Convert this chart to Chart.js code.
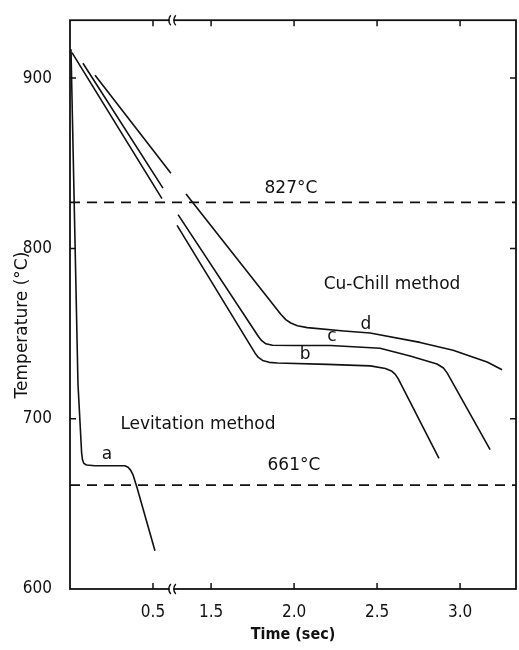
<!DOCTYPE html>
<html><head><meta charset="utf-8">
<script src="https://cdn.jsdelivr.net/npm/chart.js@4/dist/chart.umd.min.js"></script>
<style>html,body{margin:0;padding:0;background:#fff}#wrap{width:519px;height:650px;position:relative}</style>
</head><body><div id="wrap"><canvas id="c"></canvas></div>
<script>
// ---- data (time in seconds, temperature in °C) ----
const tickTimes  = [0.5, 1.5, 2.0, 2.5, 3.0];
const tickLabels = ['0.5', '1.5', '2.0', '2.5', '3.0'];
const tempTicks  = [600, 700, 800, 900];
const refTemps   = [827, 661];
const refLabels  = ['827°C', '661°C'];

const curveA_t = [0.006, 0.048, 0.070, 0.075, 0.083, 0.1, 0.15, 0.33, 0.35, 0.365, 0.38, 0.404, 0.512];
const curveA_T = [917, 720.5, 680, 676, 673.8, 672.8, 672.4, 672.4, 671.5, 669.8, 667, 659.4, 622.5];

const curveB_t0 = [0.012, 0.554];
const curveB_T0 = [915, 829.2];
const curveB_t  = [1.295, 1.765, 1.785, 1.81, 1.85, 1.9, 2.2, 2.46, 2.55, 2.59, 2.61, 2.627, 2.873];
const curveB_T  = [813.5, 738.5, 736, 734.2, 733.1, 732.7, 731.9, 731, 729.5, 727.8, 726, 723.5, 676.7];

const curveC_t0 = [0.078, 0.560];
const curveC_T0 = [908.7, 835.4];
const curveC_t  = [1.301, 1.785, 1.805, 1.83, 1.87, 2.0, 2.22, 2.518, 2.699, 2.861, 2.9, 2.922, 3.181];
const curveC_T  = [819.8, 748.3, 745.8, 744, 743.1, 743, 743, 741.4, 736.8, 732.1, 729.8, 726.9, 681.9];

const curveD_t0 = [0.151, 0.608];
const curveD_T0 = [901.7, 844.1];
const curveD_t  = [1.349, 1.92, 1.95, 1.98, 2.02, 2.08, 2.3, 2.458, 2.759, 2.958, 3.163, 3.253];
const curveD_T  = [832.0, 761.3, 758.2, 756.2, 754.6, 753.5, 751.5, 750.3, 744.8, 740.2, 733.3, 728.7];

// ---- broken time axis: the interval 0.65 s .. 1.3 s is cut out ----
const BREAK_CUT = 0.65;
const BREAK_AT = 0.613;           // axis position of the break mark
function toAxis(t) { return t < 1 ? t : t - BREAK_CUT; }
const X_MAX = 2.687, Y_MIN = 600, Y_MAX = 934;

function pts(ts, Ts) { return ts.map((t, i) => ({ x: toAxis(t), y: Ts[i] })); }
function broken(t0, T0, t1, T1) {
  return pts(t0, T0).concat([{ x: BREAK_AT, y: null }], pts(t1, T1));
}

const FONT = "'DejaVu Sans', sans-serif";
const TICKFONT = "'DejaVu Sans Condensed', 'DejaVu Sans', sans-serif";
const INK = '#111';

const lineStyle = {
  borderColor: INK, borderWidth: 1.6, pointRadius: 0, fill: false,
  tension: 0, spanGaps: false, borderJoinStyle: 'round'
};

const datasets = [
  Object.assign({ label: 'a', data: pts(curveA_t, curveA_T) }, lineStyle),
  Object.assign({ label: 'b', data: broken(curveB_t0, curveB_T0, curveB_t, curveB_T) }, lineStyle),
  Object.assign({ label: 'c', data: broken(curveC_t0, curveC_T0, curveC_t, curveC_T) }, lineStyle),
  Object.assign({ label: 'd', data: broken(curveD_t0, curveD_T0, curveD_t, curveD_T) }, lineStyle)
].concat(refTemps.map((T, i) => ({
  label: refLabels[i], data: [{ x: 0, y: T }, { x: X_MAX, y: T }],
  borderColor: INK, borderWidth: 1.7, borderDash: [10, 7], pointRadius: 0, fill: false, tension: 0
})));

// text annotations (time, temperature)
const notes = [
  { text: '827°C', t: 1.981, T: 835.4 },
  { text: '661°C', t: 1.999, T: 672.7 },
  { text: 'Cu-Chill method', t: 2.59, T: 778.9 },
  { text: 'Levitation method', t: 1.421, T: 696.4 },
  { text: 'a', t: 0.223, T: 679 },
  { text: 'b', t: 2.066, T: 737.5 },
  { text: 'c', t: 2.228, T: 748.3 },
  { text: 'd', t: 2.433, T: 755.2 }
];
const yTitle = 'Temperature (°C)';

const framePlugin = {
  id: 'frame',
  afterDatasetsDraw(chart) {
    const { ctx, chartArea: a, scales: { x, y } } = chart;
    ctx.save();
    ctx.strokeStyle = INK;
    ctx.lineWidth = 1.8;
    ctx.strokeRect(a.left, a.top, a.right - a.left, a.bottom - a.top);
    // inward ticks
    ctx.lineWidth = 1.5;
    const tl = 6;
    tickTimes.forEach(t => {
      const px = x.getPixelForValue(toAxis(t));
      ctx.beginPath();
      ctx.moveTo(px, a.bottom); ctx.lineTo(px, a.bottom - tl);
      ctx.moveTo(px, a.top); ctx.lineTo(px, a.top + tl);
      ctx.stroke();
    });
    tempTicks.forEach(T => {
      if (T === Y_MIN) return;
      const py = y.getPixelForValue(T);
      ctx.beginPath();
      ctx.moveTo(a.left, py); ctx.lineTo(a.left + tl, py);
      ctx.moveTo(a.right, py); ctx.lineTo(a.right - tl, py);
      ctx.stroke();
    });
    // axis break marks
    const bx = x.getPixelForValue(BREAK_AT);
    [a.top, a.bottom].forEach(by => {
      ctx.fillStyle = '#fff';
      ctx.fillRect(bx - 2, by - 3, 4, 6);
      ctx.lineWidth = 1.4;
      [-3, 2].forEach(dx => {
        ctx.beginPath();
        ctx.moveTo(bx + dx + 2, by - 5);
        ctx.quadraticCurveTo(bx + dx - 2, by, bx + dx + 2, by + 5);
        ctx.stroke();
      });
    });
    // annotations
    ctx.fillStyle = INK;
    ctx.textAlign = 'center';
    ctx.textBaseline = 'middle';
    ctx.font = '17px ' + FONT;
    notes.forEach(n => {
      ctx.fillText(n.text, x.getPixelForValue(toAxis(n.t)), y.getPixelForValue(n.T));
    });
    // y-axis title
    ctx.translate(23, y.getPixelForValue(755));
    ctx.rotate(-Math.PI / 2);
    ctx.fillText(yTitle, 0, 0);
    ctx.restore();
  }
};

new Chart(document.getElementById('c'), {
  type: 'line',
  data: { datasets },
  options: {
    responsive: true, maintainAspectRatio: false, animation: false,
    layout: { padding: { left: 0, right: 3, top: 10, bottom: 0 } },
    plugins: { legend: { display: false }, tooltip: { enabled: false } },
    scales: {
      x: {
        type: 'linear', min: 0, max: X_MAX,
        afterBuildTicks: s => { s.ticks = tickTimes.map(t => ({ value: toAxis(t) })); },
        afterFit: s => { s.height = 61; },
        grid: { display: false }, border: { display: false },
        ticks: {
          autoSkip: false, maxRotation: 0, padding: 5, color: INK,
          font: { family: TICKFONT, size: 17 },
          callback: (v, i) => tickLabels[i]
        },
        title: { display: true, text: 'Time (sec)', color: INK,
          font: { family: TICKFONT, size: 16, weight: 'bold' }, padding: { top: 0, bottom: 6 } }
      },
      y: {
        type: 'linear', min: Y_MIN, max: Y_MAX,
        afterBuildTicks: s => { s.ticks = tempTicks.map(v => ({ value: v })); },
        afterFit: s => { s.width = 70; },
        grid: { display: false }, border: { display: false },
        ticks: { padding: 10, color: INK, font: { family: TICKFONT, size: 17 } },
        title: { display: false }
      }
    }
  },
  plugins: [framePlugin]
});
</script>
</body></html>
